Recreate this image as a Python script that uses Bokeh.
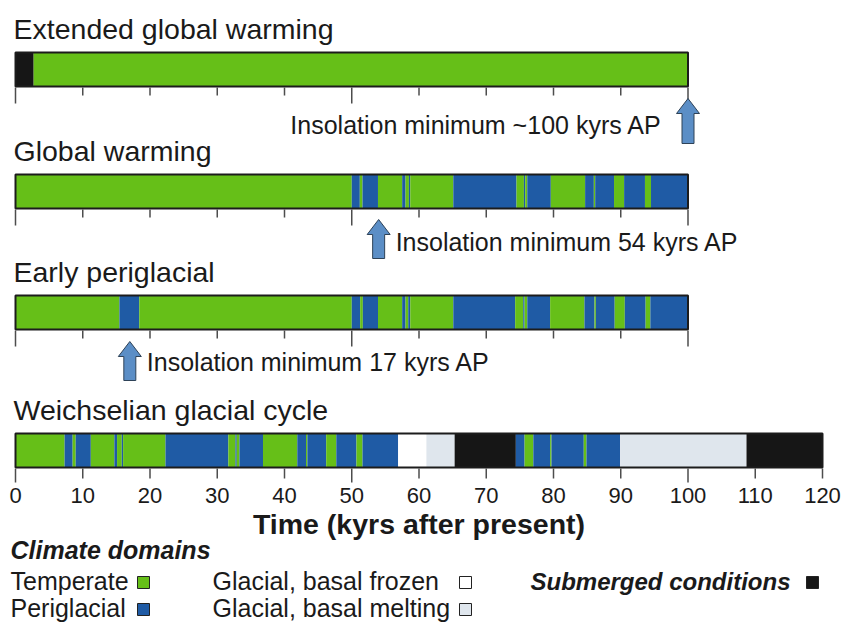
from bokeh.plotting import figure
from bokeh.models import Range1d
from bokeh.core.properties import value
from bokeh.embed import file_html
from bokeh.resources import INLINE

# ---------------- data ----------------
T, P, F, M, S = "temperate", "periglacial", "frozen", "melting", "submerged"

scenario_titles = ["Extended global warming", "Global warming",
                   "Early periglacial", "Weichselian glacial cycle"]

ext_bounds = [0, 2.7, 100]
ext_domains = [S, T]

gw_bounds = [0, 50, 51.2, 51.6, 53.9, 57.5, 58.0, 58.5, 58.7, 65.1, 74.5,
             75.6, 75.8, 76.1, 79.6, 84.7, 86.0, 86.2, 89.0, 90.5, 93.6, 94.5, 100]
gw_domains = [T, P, T, P, T, P, T, P, T, P, T, P, T, P, T, P, T, P, T, P, T, P]

ep_bounds = [0, 15.45, 18.4, 50, 51.25, 51.65, 53.9, 57.5, 58.0, 58.4, 58.7,
             65.1, 74.3, 75.5, 75.7, 76.1, 79.5, 84.6, 86.1, 86.3, 89.1, 90.6,
             93.7, 94.4, 100]
ep_domains = [T, P, T, P, T, P, T, P, T, P, T, P, T, P, T, P, T, P, T, P,
              T, P, T, P]

wc_bounds = [0, 7.3, 8.5, 8.95, 11.2, 14.7, 15.1, 15.8, 16.0, 22.3, 31.65,
             32.7, 32.9, 33.3, 36.8, 41.9, 43.2, 43.4, 46.2, 47.7, 50.7, 51.6,
             56.9, 61.1, 65.3, 74.4, 75.7, 77.0, 79.5, 79.7, 84.5, 84.9, 89.9,
             108.7, 120]
wc_domains = [T, P, T, P, T, P, T, P, T, P, T, P, T, P, T, P, T, P, T, P,
              T, P, F, M, S, P, T, P, T, P, T, P, M, S]

insolation_minima = [100, 54, 17]
insolation_labels = ["Insolation minimum ~100 kyrs AP",
                     "Insolation minimum 54 kyrs AP",
                     "Insolation minimum 17 kyrs AP"]

top_ticks = list(range(0, 110, 10))
bottom_ticks = list(range(0, 130, 10))
bottom_tick_labels = [str(v) for v in bottom_ticks]
major_ticks = [0, 50, 100]

x_axis_label = "Time (kyrs after present)"
legend_title = "Climate domains"
legend_labels = ["Temperate", "Periglacial", "Glacial, basal frozen",
                 "Glacial, basal melting", "Submerged conditions"]
legend_domains = [T, P, F, M, S]

# ---------------- style ----------------
COLORS = {T: "#66bf18", P: "#1f5ba5", F: "#ffffff", M: "#dfe6ed", S: "#161616"}
FONT = value("Liberation Sans")
TXT = "#1a1a1a"

W, H = 841, 622
PPK = 6.725         # screen px per kyr
X0 = 15             # screen px of kyr 0
XS = -X0 / PPK


def px(v):
    """screen px offset -> data units"""
    return v / PPK


def sx(p):
    """absolute screen px -> data x"""
    return XS + p / PPK


def mid(baseline, fs):
    """y of em-box middle for a wanted alphabetic baseline"""
    return baseline - 0.3465 * fs


p = figure(width=W, height=H, output_backend="svg", toolbar_location=None,
           x_range=Range1d(XS, XS + W / PPK), y_range=Range1d(H, 0),
           x_axis_type=None, y_axis_type=None, min_border=0,
           outline_line_color=None, background_fill_color="white",
           border_fill_color="white")
p.grid.visible = False

bars = [(ext_bounds, ext_domains), (gw_bounds, gw_domains),
        (ep_bounds, ep_domains), (wc_bounds, wc_domains)]
bar_tops = [52, 174, 295, 433]
BAR_H = 34
title_base = [38, 160, 281, 419]
TFS = 28.5

for i, ((b, d), top) in enumerate(zip(bars, bar_tops)):
    bot = top + BAR_H
    p.quad(left=b[:-1], right=b[1:], top=top, bottom=bot,
           fill_color=[COLORS[k] for k in d], line_color=None)
    p.quad(left=[b[0]], right=[b[-1]], top=top, bottom=bot,
           fill_color=None, line_color="#1c1c1c", line_width=2)
    ticks = top_ticks if i < 3 else bottom_ticks
    if i < 3:
        lens = [16 if t in major_ticks else 8 for t in ticks]
    else:
        lens = [14 if t in major_ticks else 10 for t in ticks]
    p.segment(x0=ticks, x1=ticks, y0=[bot + 1] * len(ticks),
              y1=[bot + 1 + L for L in lens], line_color="#4d4d4d",
              line_width=1.5)
    p.text(x=[sx(13)], y=[mid(title_base[i], TFS)], text=[scenario_titles[i]],
           text_font=FONT, text_font_size=f"{TFS}px", text_color=TXT,
           text_baseline="middle", text_align="left")

# insolation arrows
arrow_tips = [98, 219, 341]
arrow_bottoms = [143, 258, 380]
HEAD_H, HEAD_W, SHAFT_W = 15, 11.5, 6
xs, ys = [], []
for xm, tip, bt in zip(insolation_minima, arrow_tips, arrow_bottoms):
    xs.append([xm, xm + px(HEAD_W), xm + px(SHAFT_W), xm + px(SHAFT_W),
               xm - px(SHAFT_W), xm - px(SHAFT_W), xm - px(HEAD_W)])
    ys.append([tip, tip + HEAD_H, tip + HEAD_H, bt, bt, tip + HEAD_H,
               tip + HEAD_H])
p.patches(xs=xs, ys=ys, fill_color="#5b8ec6", line_color="#2e4257",
          line_width=1)

IFS = 25
ins_base = [133, 250, 370]
p.text(x=[insolation_minima[0] - px(26)], y=[mid(ins_base[0], IFS)],
       text=[insolation_labels[0]], text_font=FONT, text_font_size=f"{IFS}px",
       text_color=TXT, text_align="right", text_baseline="middle")
p.text(x=[v + px(17) for v in insolation_minima[1:]],
       y=[mid(b, IFS) for b in ins_base[1:]],
       text=insolation_labels[1:], text_font=FONT, text_font_size=f"{IFS}px",
       text_color=TXT, text_align="left", text_baseline="middle")

# bottom tick labels and axis label
p.text(x=bottom_ticks, y=[mid(503, 22)] * len(bottom_ticks),
       text=bottom_tick_labels, text_font=FONT, text_font_size="22px",
       text_color=TXT, text_align="center", text_baseline="middle")
p.text(x=[60], y=[mid(533, TFS)], text=[x_axis_label], text_font=FONT,
       text_font_size=f"{TFS}px", text_font_style="bold", text_color=TXT,
       text_align="center", text_baseline="middle")

# legend
LFS = 25
p.text(x=[sx(10)], y=[mid(558, LFS)], text=[legend_title], text_font=FONT,
       text_font_size=f"{LFS}px", text_font_style="bold italic",
       text_color=TXT, text_baseline="middle")
leg_text_x = [sx(10), sx(10), sx(212), sx(212)]
leg_sq_x = [sx(143), sx(143), sx(465), sx(465)]
leg_base = [589, 616, 589, 616]
p.text(x=leg_text_x, y=[mid(b, LFS) for b in leg_base], text=legend_labels[:4],
       text_font=FONT, text_font_size=f"{LFS}px", text_color=TXT,
       text_baseline="middle")
p.text(x=[sx(530)], y=[mid(589, 24)], text=[legend_labels[4]], text_font=FONT,
       text_font_size="24px", text_font_style="bold italic", text_color=TXT,
       text_baseline="middle")
p.scatter(x=leg_sq_x + [sx(812)], y=[b - 7 for b in leg_base] + [582],
          marker="square", size=12,
          fill_color=[COLORS[k] for k in legend_domains],
          line_color="#222222", line_width=1)

open("out.html", "w").write(file_html(p, INLINE))
